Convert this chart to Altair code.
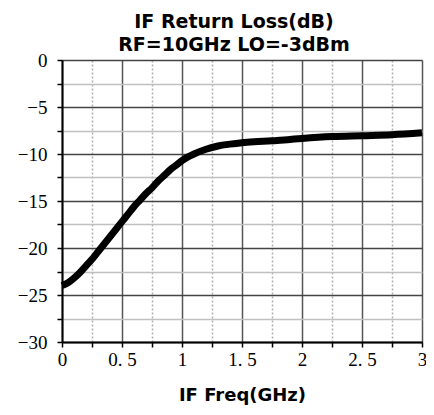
import altair as alt
import pandas as pd

freq = [0, 0.05, 0.1, 0.15, 0.2, 0.25, 0.3, 0.35, 0.4, 0.45, 0.5, 0.55, 0.6, 0.65,
        0.7, 0.75, 0.8, 0.85, 0.9, 0.95, 1.0, 1.05, 1.1, 1.2, 1.3, 1.4, 1.5, 1.6, 1.75,
        1.9, 2.0, 2.25, 2.5, 2.75, 3.0]
loss = [-24.0, -23.7, -23.2, -22.6, -21.9, -21.2, -20.4, -19.6, -18.8, -18.0, -17.2,
        -16.4, -15.6, -14.9, -14.2, -13.6, -12.9, -12.3, -11.7, -11.2, -10.7, -10.3,
        -10.0, -9.5, -9.15, -8.95, -8.8, -8.7, -8.6, -8.45, -8.35, -8.15, -8.05, -7.95, -7.75]

x_ticks = [i * 0.25 for i in range(13)]
y_ticks = [-30 + i * 2.5 for i in range(13)]

df = pd.DataFrame({"f": freq, "rl": loss})

label_font = "Liberation Serif, Times New Roman, serif"

x_axis = alt.Axis(
    values=x_ticks,
    title="IF Freq(GHz)",
    titleFont="DejaVu Sans", titleFontSize=18, titleFontWeight="bold", titleColor="black",
    titlePadding=17,
    labelFont=label_font, labelFontSize=19, labelColor="black", labelPadding=3,
    labelExpr="datum.value % 0.5 == 0 ? replace(format(datum.value, '~g'), '.', '. ') : ''",
    labelFlush=False, labelOverlap=False,
    domainColor="black", domainWidth=2,
    tickColor="black", tickSize=5, tickWidth=1.5,
    grid=True,
    gridColor={"condition": {"test": "datum.value % 0.5 == 0", "value": "#555555"}, "value": "#b0b0b0"},
    gridDash={"condition": {"test": "datum.value % 0.5 == 0", "value": []}, "value": [2, 2]},
    gridWidth=1.5,
)
y_axis = alt.Axis(
    values=y_ticks,
    title=None,
    labelFont=label_font, labelFontSize=19, labelColor="black", labelPadding=10,
    labelExpr="datum.value % 5 == 0 ? datum.label : ''",
    labelFlush=False, labelOverlap=False,
    domainColor="black", domainWidth=2,
    tickColor="black", tickSize=5, tickWidth=1.5,
    grid=True,
    gridColor={"condition": {"test": "datum.value % 5 == 0", "value": "#444444"}, "value": "#c0c0c0"},
    gridWidth=1.5,
)

chart = alt.Chart(df).mark_line(color="black", strokeWidth=7, interpolate="monotone").encode(
    x=alt.X("f:Q", scale=alt.Scale(domain=[0, 3], nice=False), axis=x_axis),
    y=alt.Y("rl:Q", scale=alt.Scale(domain=[-30, 0], nice=False), axis=y_axis),
).properties(
    width=360, height=282,
    autosize=alt.AutoSizeParams(type="none"),
    padding={"left": 54, "top": 52, "right": 4, "bottom": 64},
    title=alt.Title(
        ["IF Return Loss(dB)", "RF=10GHz LO=-3dBm"],
        font="DejaVu Sans", fontSize=19, fontWeight="bold", color="black",
        lineHeight=23, offset=0, dx=-8, dy=4, anchor="middle",
    ),
).configure_view(stroke=None).configure(background="white")

chart.save("out.html", embed_options={"renderer": "svg", "actions": False})
